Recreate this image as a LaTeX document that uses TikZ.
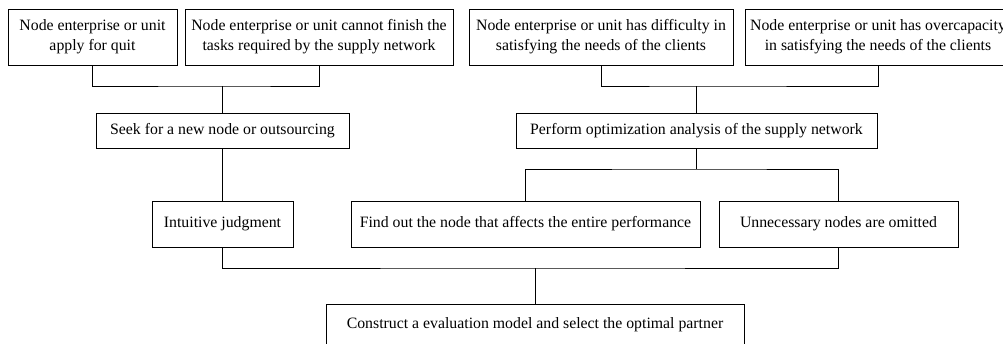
\documentclass[tikz,border=0pt]{standalone}
\usepackage{fontspec}
\setmainfont{Liberation Serif}
\usetikzlibrary{positioning}

\begin{document}
\begin{tikzpicture}[x=1pt,y=-1pt,line width=0.8pt,
    box/.style={draw,align=center,inner sep=0pt,font=\fontsize{15.8}{20}\selectfont},
    tall/.style={box,minimum height=56pt},
    mid/.style={box,minimum height=35pt},
    low/.style={box,minimum height=46pt}]
            \useasboundingbox (0,0) rectangle (1003,343);
            \node[tall,minimum width=169pt] (quit) at (92.5,37) {Node enterprise or unit\\apply for quit};
            \node[tall,minimum width=268pt] (fail) at (319,37) {Node enterprise or unit cannot finish the\\tasks required by the supply network};
            \node[tall,minimum width=264pt] (hard) at (601,37) {Node enterprise or unit has difficulty in\\satisfying the needs of the clients};
            \node[tall,minimum width=266pt] (over) at (878,37) {Node enterprise or unit has overcapacity\\in satisfying the needs of the clients};
            \node[mid,minimum width=253pt] (seek) at (222.5,130.5) {Seek for a new node or outsourcing};
            \node[mid,minimum width=361pt] (perf) at (696.5,130.5) {Perform optimization analysis of the supply network};
            \node[low,minimum width=141pt] (intu) at (222.5,224) {Intuitive judgment};
            \node[low,minimum width=349pt] (find) at (525.5,224) {Find out the node that affects the entire performance};
            \node[low,minimum width=239pt] (omit) at (838.5,224) {Unnecessary nodes are omitted};
            \node[box,minimum width=418pt,minimum height=42pt] (cons) at (535,325) {Construct a evaluation model and select the optimal partner};
            \coordinate (j1) at (222.5,86);
            \coordinate (j2) at (696.5,86);
            \coordinate (j3) at (696.5,169);
            \coordinate (j4) at (535,268);
            \draw (quit.south) |- (j1) -| (fail.south);
            \draw (j1)--(seek.north);
            \draw (hard.south) |- (j2) -| (over.south);
            \draw (j2)--(perf.north);
            \draw (seek.south)--(intu.north);
            \draw (perf.south)--(j3);
            \draw (find.north) |- (j3) -| (omit.north);
            \draw (intu.south) |- (j4) -| (omit.south);
            \draw (j4)--(cons.north);
        \end{tikzpicture}
\end{document}
